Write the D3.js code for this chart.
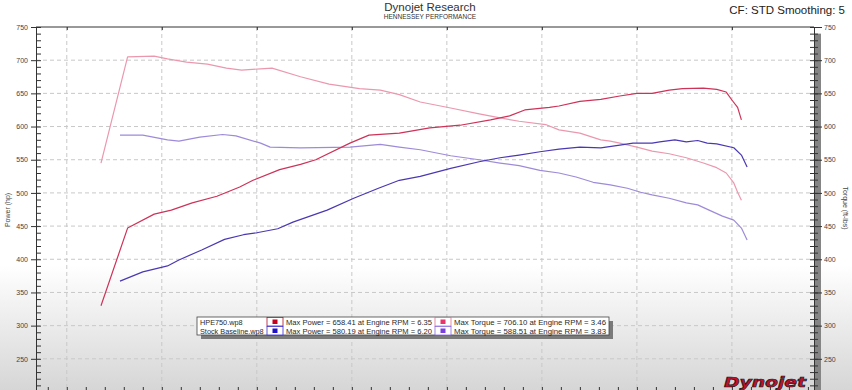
<!DOCTYPE html>
<html>
<head>
<meta charset="utf-8">
<script src="https://cdn.jsdelivr.net/npm/d3@7"></script>
<style>
  body { margin: 0; background: #fff; }
  svg { display: block; font-family: "Liberation Sans", Arial, sans-serif; }
  .axis path, .axis line { stroke: #333; }
  .axis text { fill: #444; font-size: 7px; }
  .grid line { stroke: #c8c8c8; stroke-dasharray: 4,3; }
</style>
</head>
<body>
<svg class="dyno" width="852" height="390"></svg>
<script>
// rpm values in thousands
const hpeTorqueRpm = [3.18, 3.32, 3.46, 3.53, 3.63, 3.74, 3.84, 3.92, 4.02, 4.08, 4.23, 4.38, 4.54, 4.65, 4.75, 4.86, 5.02, 5.17, 5.28, 5.38, 5.52, 5.59, 5.70, 5.81, 5.86, 5.91, 6.00, 6.08, 6.17, 6.26, 6.35, 6.42, 6.47, 6.51, 6.53, 6.55];
const hpeTorque    = [545, 705, 706, 702, 697, 694, 688, 685, 687, 688, 675, 664, 657, 655, 648, 637, 628, 619, 613, 608, 603, 595, 590, 580, 578, 575, 569, 563, 559, 553, 545, 538, 530, 515, 501, 489];

const hpePowerRpm = [3.18, 3.32, 3.46, 3.55, 3.66, 3.79, 3.91, 3.98, 4.12, 4.23, 4.31, 4.49, 4.59, 4.75, 4.91, 5.07, 5.23, 5.33, 5.41, 5.54, 5.59, 5.70, 5.81, 5.91, 6.00, 6.08, 6.17, 6.24, 6.35, 6.42, 6.47, 6.50, 6.53, 6.55];
const hpePower    = [330, 447, 468, 474, 485, 495, 509, 519, 535, 543, 550, 575, 587, 590, 598, 602, 610, 616, 625, 629, 631, 638, 641, 646, 650, 650, 655, 657, 658, 656, 652, 640, 629, 610];

const stockPowerRpm = [3.28, 3.40, 3.53, 3.59, 3.71, 3.83, 3.93, 4.00, 4.11, 4.19, 4.37, 4.51, 4.64, 4.75, 4.86, 5.02, 5.17, 5.28, 5.38, 5.49, 5.59, 5.70, 5.81, 5.91, 5.98, 6.08, 6.12, 6.20, 6.26, 6.32, 6.37, 6.42, 6.51, 6.55, 6.58];
const stockPower    = [367, 381, 390, 399, 414, 430, 437, 440, 446, 456, 474, 492, 507, 519, 525, 537, 547, 553, 557, 562, 566, 569, 568, 572, 575, 575, 577, 580, 577, 579, 575, 574, 568, 557, 539];

const stockTorqueRpm = [3.28, 3.40, 3.53, 3.59, 3.70, 3.82, 3.89, 4.02, 4.07, 4.23, 4.49, 4.65, 4.75, 4.86, 5.02, 5.17, 5.28, 5.38, 5.49, 5.59, 5.68, 5.77, 5.86, 5.95, 6.02, 6.08, 6.17, 6.26, 6.32, 6.38, 6.45, 6.51, 6.55, 6.58];
const stockTorque    = [587, 587, 580, 578, 584, 588, 586, 575, 569, 568, 569, 573, 569, 565, 556, 550, 545, 541, 534, 530, 524, 516, 512, 507, 501, 497, 492, 485, 482, 474, 465, 459, 447, 429];

const runNames = ["HPE750.wp8", "Stock Baseline.wp8"];
const powerNotes = ["Max Power = 658.41 at Engine RPM = 6.35", "Max Power = 580.19 at Engine RPM = 6.20"];
const torqueNotes = ["Max Torque = 706.10 at Engine RPM = 3.46", "Max Torque = 588.51 at Engine RPM = 3.83"];

const yMajor = [250, 300, 350, 400, 450, 500, 550, 600, 650, 700, 750];
const rpmGrid = [3.0, 3.5, 4.0, 4.5, 5.0, 5.5, 6.0, 6.5];

(function (d3) {
  'use strict';

  const svg = d3.select('.dyno');
  const width = +svg.attr('width');
  const height = +svg.attr('height');

  // page background fades to grey at the bottom
  const defs = svg.append('defs');
  const grad = defs.append('linearGradient')
    .attr('id', 'bg').attr('x1', 0).attr('y1', 0).attr('x2', 0).attr('y2', 1);
  grad.append('stop').attr('offset', '0%').attr('stop-color', '#ffffff');
  grad.append('stop').attr('offset', '68%').attr('stop-color', '#ffffff');
  grad.append('stop').attr('offset', '100%').attr('stop-color', '#d6d6d6');
  svg.append('rect').attr('width', width).attr('height', height).attr('fill', 'url(#bg)');

  const left = 36, right = 814, top = 27, bottom = 392;

  const xScale = d3.scaleLinear().domain([2.838, 6.932]).range([left, right]);
  const yScale = d3.scaleLinear().domain([200, 750]).range([bottom, top]);

  // dashed grid
  const grid = svg.append('g').attr('class', 'grid');
  grid.selectAll('.h').data(yMajor.filter(v => v < 750))
    .enter().append('line')
      .attr('x1', left).attr('x2', right)
      .attr('y1', d => yScale(d)).attr('y2', d => yScale(d));
  grid.selectAll('.v').data(rpmGrid)
    .enter().append('line')
      .attr('x1', d => xScale(d)).attr('x2', d => xScale(d))
      .attr('y1', top).attr('y2', bottom);

  // top frame line
  svg.append('line')
    .attr('x1', left).attr('x2', right).attr('y1', top).attr('y2', top)
    .attr('stroke', '#333');
  svg.append('g').attr('class', 'axis')
    .attr('transform', `translate(0,${top})`)
    .call(d3.axisBottom(xScale).tickValues(rpmGrid).tickSize(3).tickFormat(''))
    .select('.domain').remove();

  // gray bar behind right axis
  svg.append('rect')
    .attr('x', right + 1).attr('y', yScale(740)).attr('width', 6).attr('height', bottom - yScale(740))
    .attr('fill', '#858585');

  const minorY = d3.range(200, 751, 10);

  // left axis
  svg.append('g').attr('class', 'axis')
    .attr('transform', `translate(${left},0)`)
    .call(d3.axisRight(yScale).tickValues(minorY).tickSize(5).tickFormat(''));
  svg.append('g').attr('class', 'axis')
    .attr('transform', `translate(${left},0)`)
    .call(d3.axisLeft(yScale).tickValues(yMajor.concat([200])).tickSize(5).tickPadding(3));

  // right axis, ticks cross the line
  svg.append('g').attr('class', 'axis')
    .attr('transform', `translate(${right},0)`)
    .call(d3.axisLeft(yScale).tickValues(minorY).tickSize(4).tickFormat(''));
  svg.append('g').attr('class', 'axis')
    .attr('transform', `translate(${right},0)`)
    .call(d3.axisRight(yScale).tickValues(minorY).tickSize(4).tickFormat(''));
  svg.append('g').attr('class', 'axis')
    .attr('transform', `translate(${right},0)`)
    .call(d3.axisRight(yScale).tickValues(yMajor.concat([200])).tickSize(8).tickPadding(2))
    .select('.domain').remove();

  // bottom rpm axis (mostly off the picture)
  svg.append('g').attr('class', 'axis')
    .attr('transform', `translate(0,${bottom})`)
    .call(d3.axisTop(xScale).tickValues(d3.range(29, 70).map(d => d / 10)).tickSize(5).tickFormat(''));

  // curves
  const line = d3.line()
    .x(d => xScale(d[0]))
    .y(d => yScale(d[1]));

  const curves = [
    { rpm: stockTorqueRpm, val: stockTorque, color: '#9d8bd9' },
    { rpm: hpeTorqueRpm, val: hpeTorque, color: '#eb98ae' },
    { rpm: stockPowerRpm, val: stockPower, color: '#4a38b3' },
    { rpm: hpePowerRpm, val: hpePower, color: '#cd3358' }
  ];
  svg.selectAll('.curve').data(curves)
    .enter().append('path')
      .attr('class', 'curve')
      .attr('d', c => line(d3.zip(c.rpm, c.val)))
      .attr('fill', 'none')
      .attr('stroke', c => c.color)
      .attr('stroke-width', 1.2)
      .attr('stroke-linejoin', 'round');

  // titles
  svg.append('text').attr('x', 430).attr('y', 11).attr('text-anchor', 'middle')
    .attr('font-size', 11.5).attr('fill', '#333').text('Dynojet Research');
  svg.append('text').attr('x', 430).attr('y', 19).attr('text-anchor', 'middle')
    .attr('font-size', 6.5).attr('fill', '#333').text('HENNESSEY PERFORMANCE');
  svg.append('text').attr('x', 845).attr('y', 14).attr('text-anchor', 'end')
    .attr('font-size', 11.5).attr('fill', '#222').text('CF: STD Smoothing: 5');

  svg.append('text')
    .attr('transform', 'translate(10,210) rotate(-90)')
    .attr('text-anchor', 'middle').attr('font-size', 7).attr('fill', '#444')
    .text('Power (hp)');
  svg.append('text')
    .attr('transform', 'translate(843,208) rotate(90)')
    .attr('text-anchor', 'middle').attr('font-size', 7).attr('fill', '#444')
    .text('Torque (ft-lbs)');

  // legend box
  const lg = svg.append('g').attr('transform', 'translate(197,317)');
  const lw = 412, lh = 18;
  lg.append('rect').attr('x', 4).attr('y', 4).attr('width', lw).attr('height', lh).attr('fill', '#7a7a7a');
  lg.append('rect').attr('width', lw).attr('height', lh).attr('fill', '#fff').attr('stroke', '#444').attr('stroke-width', 0.8);

  const sqPower = ['#c4001f', '#2010c8'];
  const sqTorque = ['#e8356b', '#7b3fe0'];
  const cellBorder = [['#b0102a', '#e0708c'], ['#3a2fd0', '#8a68e0']];

  [0, 1].forEach(i => {
    const ry = i * 9;
    lg.append('text').attr('x', 3).attr('y', ry + 7.5).attr('font-size', 7.3).attr('fill', '#2a2a2a').text(runNames[i]);
    lg.append('rect').attr('x', 70).attr('y', ry + 0.5).attr('width', 16).attr('height', 8.5)
      .attr('fill', '#fff').attr('stroke', cellBorder[i][0]).attr('stroke-width', 0.8);
    lg.append('rect').attr('x', 75.5).attr('y', ry + 2.5).attr('width', 5).attr('height', 4.5).attr('fill', sqPower[i]);
    lg.append('text').attr('x', 89).attr('y', ry + 7.5).attr('font-size', 7.8).attr('fill', '#2a2a2a')
      .attr('textLength', 146).attr('lengthAdjust', 'spacingAndGlyphs').text(powerNotes[i]);
    lg.append('rect').attr('x', 238).attr('y', ry + 0.5).attr('width', 16).attr('height', 8.5)
      .attr('fill', '#fff').attr('stroke', cellBorder[i][1]).attr('stroke-width', 0.8);
    lg.append('rect').attr('x', 243.5).attr('y', ry + 2.5).attr('width', 5).attr('height', 4.5).attr('fill', sqTorque[i]);
    lg.append('text').attr('x', 257).attr('y', ry + 7.5).attr('font-size', 7.8).attr('fill', '#2a2a2a')
      .attr('textLength', 152).attr('lengthAdjust', 'spacingAndGlyphs').text(torqueNotes[i]);
  });

  // logo
  svg.append('text')
    .attr('x', 724).attr('y', 387)
    .attr('font-family', 'DejaVu Sans, sans-serif')
    .attr('font-weight', 'bold').attr('font-style', 'italic')
    .attr('font-size', 14)
    .attr('textLength', 82).attr('lengthAdjust', 'spacingAndGlyphs')
    .attr('fill', '#c3102c').attr('stroke', '#1a1a1a').attr('stroke-width', 0.7)
    .text('Dynojet');

}(d3));
</script>
</body>
</html>
